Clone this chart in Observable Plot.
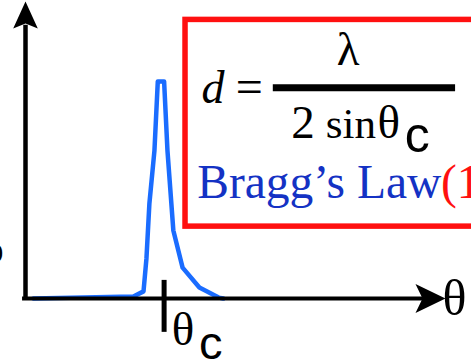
<!DOCTYPE html>
<html>
<head>
<meta charset="utf-8">
<script src="https://cdn.jsdelivr.net/npm/d3@7"></script>
<script src="https://cdn.jsdelivr.net/npm/@observablehq/plot@0.6"></script>
<style>
  html, body { margin: 0; padding: 0; background: #fff; }
  #chart svg { display: block; }
</style>
</head>
<body>
<div id="chart"></div>
<script>
// Diffraction peak (arbitrary units): scattering angle theta vs intensity
const theta     = [1.9, 25.7, 28.1, 28.8, 29.5, 30.7, 31.5, 33.0, 33.8, 35.2, 37.4, 41.4, 46.0, 47.1];
const intensity = [0.0, 0.7,  2.4,  13.5, 32.0, 49.8, 73.1, 73.1, 49.8, 22.9, 10.4, 3.7,  0.3,  0.0];
const thetaC = 33.0;              // tick position of the critical angle
const tickLabels = ["θ", "c"];    // θ_c tick label
const axisLabel = "θ";
const formulaTop = "λ";
const formulaBottom = ["2", "sin", "θ", "c"];
const lawName = "Bragg’s Law";
const lawNumber = "(1";

const peak = theta.map((t, i) => ({theta: t, intensity: intensity[i]}));

const serif = "'Liberation Serif', 'Times New Roman', serif";
const sans = "'Liberation Sans', Arial, sans-serif";
const blue = "#1a6cff";
const textBlue = "#1432c4";
const red = "#ff1010";

// filled "stealth" arrowheads, tip at origin, pointing up
const arrowUp = {draw(ctx) { ctx.moveTo(0, 0); ctx.lineTo(12.3, 27); ctx.lineTo(0, 22); ctx.lineTo(-12.3, 27); ctx.closePath(); }};
const arrowX  = {draw(ctx) { ctx.moveTo(0, 0); ctx.lineTo(14.5, 30); ctx.lineTo(0, 23); ctx.lineTo(-14.5, 30); ctx.closePath(); }};

const txt = (s, o) => Plot.text([s], {text: d => d, lineAnchor: "bottom", fontFamily: serif, ...o});

const chart = Plot.plot({
  width: 471,
  height: 361,
  style: {background: "#fff", overflow: "hidden"},
  x: {domain: [0, 100], range: [25, 445], axis: null},
  y: {domain: [0, 100], range: [298, 1], axis: null},
  marks: [
    // formula box
    Plot.rect([0], {x1: 38.1, x2: 108.5, y1: 93.8, y2: 24.2, fill: "none", stroke: red, strokeWidth: 5.5}),
    // peak
    Plot.line(peak, {x: "theta", y: "intensity", stroke: blue, strokeWidth: 4.5, strokeLinejoin: "round"}),
    // axes
    Plot.ruleY([0], {x1: -0.7, x2: 95, stroke: "#000", strokeWidth: 4}),
    Plot.ruleX([0], {y1: -0.7, y2: 92, stroke: "#000", strokeWidth: 4.5}),
    Plot.dot([0], {x: 0, y: 100, symbol: arrowUp, fill: "#000", stroke: "none"}),
    Plot.dot([0], {x: 100, y: 0, symbol: arrowX, fill: "#000", stroke: "none", rotate: 90}),
    // theta_c tick
    Plot.ruleX([thetaC], {y1: -11.4, y2: 6.1, stroke: "#000", strokeWidth: 5}),
    txt(tickLabels[0], {x: 34.8, y: -15.8, fontSize: 47, textAnchor: "start"}),
    txt(tickLabels[1], {x: 41.3, y: -20.5, fontSize: 47, fontFamily: sans, textAnchor: "start"}),
    // axis label
    txt(axisLabel, {x: 99.3, y: -5.7, fontSize: 50, textAnchor: "start"}),
    // clipped y-axis label remnant
    txt("o", {x: -5.2, y: 11.8, fontSize: 42, textAnchor: "end"}),
    // formula
    txt("d", {x: 41.9, y: 65.7, fontSize: 46, fontStyle: "italic", textAnchor: "start"}),
    txt("=", {x: 53.3, y: 65.7, fontSize: 48, textAnchor: "middle"}),
    Plot.ruleY([71.0], {x1: 59.0, x2: 102.4, stroke: "#000", strokeWidth: 7}),
    txt(formulaTop, {x: 76.8, y: 78.5, fontSize: 47, textAnchor: "middle"}),
    txt(formulaBottom[0], {x: 63.3, y: 53.9, fontSize: 47, textAnchor: "start"}),
    txt(formulaBottom[1], {x: 71.5, y: 53.9, fontSize: 43, textAnchor: "start"}),
    txt(formulaBottom[2], {x: 83.8, y: 53.9, fontSize: 47, textAnchor: "start"}),
    txt(formulaBottom[3], {x: 90.3, y: 49.2, fontSize: 50, fontFamily: sans, textAnchor: "start"}),
    txt(lawName, {x: 40.9, y: 33.7, fontSize: 47.5, fill: textBlue, textAnchor: "start"}),
    txt(lawNumber, {x: 98.9, y: 33.7, fontSize: 47.5, fill: red, textAnchor: "start"})
  ]
});
document.getElementById("chart").appendChild(chart);
</script>
</body>
</html>
